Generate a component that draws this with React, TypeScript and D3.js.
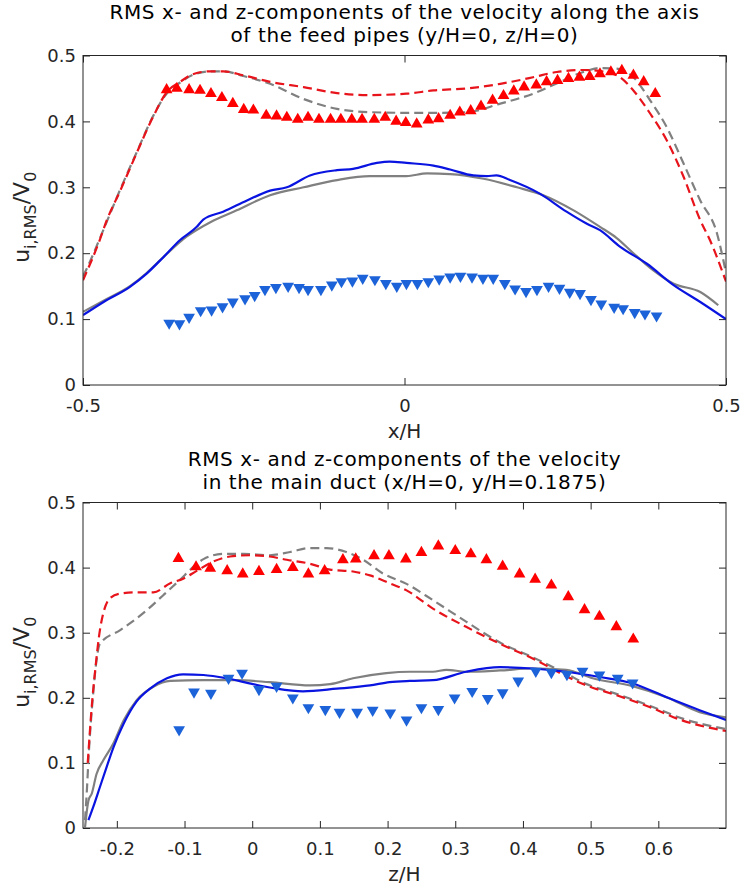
import React, { useRef, useEffect } from 'react';
import * as d3 from 'd3';

type Pt = [number, number];

// ---- top panel: along the feed pipe axis ----
const topXTicks = [-0.5, 0, 0.5];
const yTicks = [0, 0.1, 0.2, 0.3, 0.4, 0.5];

const topRedTri: Pt[] = [
  [-0.370, 0.448], [-0.354, 0.450], [-0.335, 0.448], [-0.318, 0.447], [-0.301, 0.442], [-0.284, 0.436],
  [-0.267, 0.427], [-0.250, 0.418], [-0.235, 0.417], [-0.215, 0.409], [-0.199, 0.408], [-0.183, 0.406],
  [-0.166, 0.403], [-0.150, 0.406], [-0.133, 0.403], [-0.115, 0.403], [-0.099, 0.403], [-0.082, 0.403],
  [-0.066, 0.403], [-0.047, 0.403], [-0.030, 0.406], [-0.013, 0.400], [0.002, 0.398], [0.019, 0.396],
  [0.037, 0.402], [0.053, 0.404], [0.071, 0.409], [0.086, 0.414], [0.103, 0.416], [0.119, 0.423],
  [0.137, 0.432], [0.154, 0.439], [0.170, 0.446], [0.186, 0.452], [0.205, 0.455], [0.221, 0.460],
  [0.238, 0.462], [0.255, 0.465], [0.272, 0.467], [0.288, 0.468], [0.304, 0.472], [0.321, 0.475],
  [0.338, 0.477], [0.356, 0.470], [0.372, 0.460], [0.390, 0.442],
];

const topBlueTri: Pt[] = [
  [-0.366, 0.094], [-0.350, 0.093], [-0.335, 0.103], [-0.317, 0.113], [-0.300, 0.114], [-0.283, 0.119],
  [-0.267, 0.126], [-0.248, 0.131], [-0.233, 0.136], [-0.217, 0.145], [-0.200, 0.148], [-0.181, 0.150],
  [-0.164, 0.148], [-0.150, 0.145], [-0.130, 0.145], [-0.113, 0.152], [-0.098, 0.157], [-0.081, 0.158],
  [-0.065, 0.162], [-0.046, 0.160], [-0.029, 0.154], [-0.012, 0.150], [0.003, 0.154], [0.020, 0.154],
  [0.037, 0.157], [0.054, 0.161], [0.071, 0.164], [0.087, 0.165], [0.105, 0.164], [0.122, 0.162],
  [0.138, 0.162], [0.156, 0.154], [0.172, 0.146], [0.189, 0.142], [0.206, 0.145], [0.224, 0.150],
  [0.241, 0.147], [0.257, 0.141], [0.273, 0.139], [0.290, 0.130], [0.306, 0.123], [0.326, 0.118],
  [0.340, 0.116], [0.358, 0.110], [0.374, 0.108], [0.392, 0.105],
];

const topRedDash: Pt[] = [
  [-0.5, 0.159], [-0.474, 0.22], [-0.463, 0.25], [-0.442, 0.295], [-0.417, 0.351], [-0.391, 0.407],
  [-0.370, 0.444], [-0.349, 0.46], [-0.328, 0.472], [-0.302, 0.476], [-0.282, 0.476], [-0.251, 0.470],
  [-0.209, 0.460], [-0.157, 0.452], [-0.105, 0.443], [-0.054, 0.440], [0.003, 0.442], [0.045, 0.447],
  [0.097, 0.450], [0.149, 0.457], [0.200, 0.467], [0.237, 0.475], [0.278, 0.478], [0.314, 0.475],
  [0.335, 0.467], [0.356, 0.447], [0.382, 0.412], [0.408, 0.371], [0.434, 0.316], [0.460, 0.25],
  [0.475, 0.22], [0.5, 0.157],
];

const topGrayDash: Pt[] = [
  [-0.5, 0.165], [-0.493, 0.179], [-0.474, 0.222], [-0.442, 0.297], [-0.417, 0.352], [-0.391, 0.408],
  [-0.370, 0.442], [-0.349, 0.459], [-0.328, 0.471], [-0.302, 0.476], [-0.282, 0.476], [-0.251, 0.469],
  [-0.209, 0.457], [-0.157, 0.434], [-0.105, 0.419], [-0.054, 0.414], [0.003, 0.413], [0.045, 0.413],
  [0.097, 0.414], [0.149, 0.427], [0.200, 0.442], [0.242, 0.46], [0.278, 0.475], [0.304, 0.481],
  [0.330, 0.480], [0.356, 0.467], [0.382, 0.432], [0.408, 0.391], [0.434, 0.336], [0.460, 0.280],
  [0.486, 0.23], [0.5, 0.17],
];

const topBlueLine: Pt[] = [
  [-0.5, 0.106], [-0.468, 0.126], [-0.427, 0.149], [-0.401, 0.169], [-0.375, 0.194], [-0.349, 0.220],
  [-0.323, 0.240], [-0.313, 0.251], [-0.282, 0.263], [-0.245, 0.280], [-0.209, 0.295], [-0.183, 0.300],
  [-0.147, 0.318], [-0.105, 0.326], [-0.080, 0.328], [-0.043, 0.337], [-0.023, 0.339], [0.003, 0.337],
  [0.045, 0.333], [0.071, 0.327], [0.107, 0.318], [0.128, 0.317], [0.143, 0.318], [0.164, 0.311],
  [0.211, 0.290], [0.252, 0.263], [0.283, 0.245], [0.304, 0.235], [0.335, 0.210], [0.377, 0.184],
  [0.418, 0.152], [0.460, 0.126], [0.5, 0.100],
];

const topGrayLine: Pt[] = [
  [-0.5, 0.111], [-0.468, 0.128], [-0.427, 0.150], [-0.401, 0.170], [-0.375, 0.194], [-0.339, 0.225],
  [-0.302, 0.247], [-0.261, 0.265], [-0.209, 0.288], [-0.157, 0.300], [-0.105, 0.311], [-0.054, 0.317],
  [-0.023, 0.317], [0.003, 0.317], [0.035, 0.321], [0.071, 0.320], [0.123, 0.313], [0.175, 0.300],
  [0.216, 0.288], [0.263, 0.265], [0.304, 0.240], [0.330, 0.223], [0.356, 0.200], [0.387, 0.174],
  [0.418, 0.154], [0.460, 0.141], [0.488, 0.121],
];

// ---- bottom panel: main duct ----
const botXTicks = [-0.2, -0.1, 0, 0.1, 0.2, 0.3, 0.4, 0.5, 0.6];

const botRedTri: Pt[] = [
  [-0.109, 0.414], [-0.083, 0.401], [-0.062, 0.399], [-0.037, 0.395], [-0.014, 0.390], [0.010, 0.394],
  [0.036, 0.397], [0.060, 0.400], [0.083, 0.390], [0.107, 0.395], [0.134, 0.412], [0.153, 0.413],
  [0.180, 0.418], [0.202, 0.418], [0.227, 0.413], [0.250, 0.423], [0.275, 0.433], [0.300, 0.426],
  [0.323, 0.421], [0.346, 0.412], [0.370, 0.402], [0.395, 0.390], [0.418, 0.382], [0.442, 0.373],
  [0.467, 0.355], [0.491, 0.335], [0.513, 0.325], [0.538, 0.309], [0.563, 0.290],
];

const botBlueTri: Pt[] = [
  [-0.108, 0.151], [-0.086, 0.209], [-0.061, 0.207], [-0.035, 0.230], [-0.015, 0.238], [0.010, 0.213],
  [0.036, 0.218], [0.060, 0.200], [0.083, 0.185], [0.108, 0.182], [0.129, 0.178], [0.155, 0.178],
  [0.178, 0.181], [0.204, 0.177], [0.228, 0.166], [0.250, 0.185], [0.275, 0.182], [0.299, 0.200],
  [0.325, 0.210], [0.348, 0.199], [0.370, 0.208], [0.393, 0.226], [0.419, 0.241], [0.442, 0.239],
  [0.465, 0.236], [0.488, 0.241], [0.513, 0.235], [0.540, 0.230], [0.562, 0.223],
];

const botRedDash: Pt[] = [
  [-0.243, 0.10], [-0.236, 0.20], [-0.232, 0.242], [-0.225, 0.304], [-0.210, 0.353], [-0.195, 0.360],
  [-0.171, 0.362], [-0.146, 0.362], [-0.121, 0.376], [-0.102, 0.383], [-0.082, 0.395], [-0.058, 0.409],
  [-0.033, 0.417], [-0.003, 0.419], [0.026, 0.417], [0.051, 0.412], [0.085, 0.406], [0.115, 0.397],
  [0.149, 0.394], [0.174, 0.388], [0.203, 0.376], [0.228, 0.365], [0.267, 0.337], [0.316, 0.309],
  [0.366, 0.283], [0.415, 0.260], [0.439, 0.247], [0.464, 0.233], [0.494, 0.219], [0.538, 0.204],
  [0.587, 0.186], [0.636, 0.165], [0.7, 0.149],
];

const botGrayDash: Pt[] = [
  [-0.247, 0.012], [-0.244, 0.063], [-0.242, 0.104], [-0.235, 0.206], [-0.230, 0.258], [-0.225, 0.283],
  [-0.195, 0.304], [-0.161, 0.330], [-0.131, 0.358], [-0.107, 0.381], [-0.087, 0.401], [-0.072, 0.413],
  [-0.043, 0.421], [-0.013, 0.421], [0.026, 0.419], [0.056, 0.424], [0.085, 0.430], [0.110, 0.430],
  [0.139, 0.424], [0.164, 0.412], [0.193, 0.391], [0.228, 0.375], [0.267, 0.350], [0.316, 0.317],
  [0.366, 0.285], [0.415, 0.262], [0.464, 0.237], [0.494, 0.221], [0.538, 0.206], [0.587, 0.188],
  [0.636, 0.168], [0.7, 0.152],
];

const botBlueLine: Pt[] = [
  [-0.242, 0.012], [-0.235, 0.032], [-0.225, 0.063], [-0.215, 0.094], [-0.205, 0.124], [-0.190, 0.160],
  [-0.171, 0.194], [-0.151, 0.214], [-0.126, 0.230], [-0.102, 0.236], [-0.072, 0.235], [-0.038, 0.230],
  [0.001, 0.221], [0.036, 0.214], [0.075, 0.210], [0.125, 0.214], [0.174, 0.219], [0.203, 0.224],
  [0.233, 0.226], [0.267, 0.227], [0.316, 0.240], [0.366, 0.247], [0.415, 0.245], [0.464, 0.240],
  [0.513, 0.232], [0.562, 0.222], [0.612, 0.201], [0.661, 0.181], [0.7, 0.166],
];

const botGrayLine: Pt[] = [
  [-0.247, 0.001], [-0.242, 0.042], [-0.237, 0.053], [-0.230, 0.083], [-0.220, 0.104], [-0.205, 0.130],
  [-0.190, 0.165], [-0.171, 0.196], [-0.146, 0.217], [-0.121, 0.226], [-0.072, 0.227], [-0.023, 0.227],
  [0.026, 0.224], [0.085, 0.219], [0.115, 0.221], [0.149, 0.230], [0.198, 0.238], [0.233, 0.240],
  [0.267, 0.240], [0.287, 0.243], [0.316, 0.240], [0.366, 0.242], [0.415, 0.245], [0.464, 0.243],
  [0.503, 0.230], [0.562, 0.218], [0.612, 0.201], [0.661, 0.178], [0.7, 0.170],
];

const topTitle = ['RMS x- and z-components of the velocity along the axis', 'of the feed pipes (y/H=0, z/H=0)'];
const botTitle = ['RMS x- and z-components of the velocity', 'in the main duct (x/H=0, y/H=0.1875)'];

const FONT = '"DejaVu Sans", sans-serif';
const AX = '#262626';

const W = 741;
const H = 888;

function drawPanel(svg: any, opts: any) {
  const { top, bottom, xDomain, xTicks, title, xLabel, series } = opts;
  const left = 83;
  const right = 726;
  const x = d3.scaleLinear().domain(xDomain).range([left, right]);
  const y = d3.scaleLinear().domain([0, 0.5]).range([bottom, top]);
  const g = svg.append('g');
  const fmt = (d: number) => String(d);

  const clipId = 'clip' + Math.round(top);
  g.append('clipPath').attr('id', clipId).append('rect')
    .attr('x', left).attr('y', top).attr('width', right - left).attr('height', bottom - top);

  // axes with inward ticks
  const axB = g.append('g').attr('transform', `translate(0,${bottom})`)
    .call(d3.axisBottom(x).tickValues(xTicks).tickSizeInner(-7).tickSizeOuter(0).tickPadding(14).tickFormat(fmt));
  const axT = g.append('g').attr('transform', `translate(0,${top})`)
    .call(d3.axisTop(x).tickValues(xTicks).tickSizeInner(-7).tickSizeOuter(0).tickFormat(() => ''));
  const axL = g.append('g').attr('transform', `translate(${left},0)`)
    .call(d3.axisLeft(y).tickValues(yTicks).tickSizeInner(-7).tickSizeOuter(0).tickPadding(7).tickFormat(fmt));
  const axR = g.append('g').attr('transform', `translate(${right},0)`)
    .call(d3.axisRight(y).tickValues(yTicks).tickSizeInner(-7).tickSizeOuter(0).tickFormat(() => ''));
  [axB, axT, axL, axR].forEach((a) => {
    a.select('.domain').remove();
    a.selectAll('line').attr('stroke', AX).attr('stroke-width', 1);
    a.selectAll('text').attr('fill', AX).style('font-family', FONT).style('font-size', '18px');
  });

  const plot = g.append('g').attr('clip-path', `url(#${clipId})`);
  const line = d3.line<Pt>().x((d) => x(d[0])).y((d) => y(d[1])).curve(d3.curveMonotoneX);

  series.lines.forEach((s: any) => {
    plot.append('path').datum(s.data)
      .attr('fill', 'none').attr('stroke', s.color).attr('stroke-width', 2.2)
      .attr('stroke-dasharray', s.dash ? '9,5' : null)
      .attr('d', line);
  });

  const tri = d3.symbol().type(d3.symbolTriangle).size(60);
  series.markers.forEach((s: any) => {
    plot.selectAll(null).data(s.data).enter().append('path')
      .attr('d', tri)
      .attr('fill', s.color)
      .attr('transform', (d: Pt) => `translate(${x(d[0])},${y(d[1])})${s.down ? ' rotate(180)' : ''}`);
  });

  g.append('rect').attr('x', left).attr('y', top).attr('width', right - left).attr('height', bottom - top)
    .attr('fill', 'none').attr('stroke', AX).attr('stroke-width', 1);

  // title, two lines
  title.forEach((s: string, i: number) => {
    g.append('text').attr('x', (left + right) / 2).attr('y', top - 37 + i * 23.5)
      .attr('text-anchor', 'middle').attr('fill', '#000')
      .style('font-family', FONT).style('font-size', '20px').style('letter-spacing', '0.6px')
      .text(s);
  });

  // x label
  g.append('text').attr('x', (left + right) / 2).attr('y', bottom + 53)
    .attr('text-anchor', 'middle').attr('fill', AX)
    .style('font-family', FONT).style('font-size', '20px').text(xLabel);

  // y label u_{i,RMS}/V_0
  const cy = (top + bottom) / 2;
  const yl = g.append('text').attr('transform', `translate(29,${cy - 3}) rotate(-90)`)
    .attr('text-anchor', 'middle').attr('fill', AX)
    .style('font-family', FONT).style('font-size', '22px');
  yl.append('tspan').text('u');
  yl.append('tspan').attr('dy', 7).style('font-size', '16px').text('i,RMS');
  yl.append('tspan').attr('dy', -7).text('/V');
  yl.append('tspan').attr('dy', 7).style('font-size', '16px').text('0');
}

const App = () => {
  const ref = useRef<SVGSVGElement>(null);

  useEffect(() => {
    const svg = d3.select(ref.current);
    svg.selectAll('*').remove();

    drawPanel(svg, {
      top: 55.5, bottom: 385, xDomain: [-0.5, 0.5], xTicks: topXTicks, title: topTitle, xLabel: 'x/H',
      series: {
        lines: [
          { data: topGrayDash, color: '#808080', dash: true },
          { data: topRedDash, color: '#e8141c', dash: true },
          { data: topGrayLine, color: '#808080' },
          { data: topBlueLine, color: '#0a14e0' },
        ],
        markers: [
          { data: topRedTri, color: '#ff0000' },
          { data: topBlueTri, color: '#1c62d8', down: true },
        ],
      },
    });

    drawPanel(svg, {
      top: 502.5, bottom: 828, xDomain: [-0.25, 0.7], xTicks: botXTicks, title: botTitle, xLabel: 'z/H',
      series: {
        lines: [
          { data: botGrayDash, color: '#808080', dash: true },
          { data: botRedDash, color: '#e8141c', dash: true },
          { data: botGrayLine, color: '#808080' },
          { data: botBlueLine, color: '#0a14e0' },
        ],
        markers: [
          { data: botRedTri, color: '#ff0000' },
          { data: botBlueTri, color: '#1c62d8', down: true },
        ],
      },
    });
  }, []);

  return (
    <svg ref={ref} width={W} height={H}
      style={{ position: 'absolute', left: 0, top: 0, background: '#fff' }} />
  );
};

export default App;
